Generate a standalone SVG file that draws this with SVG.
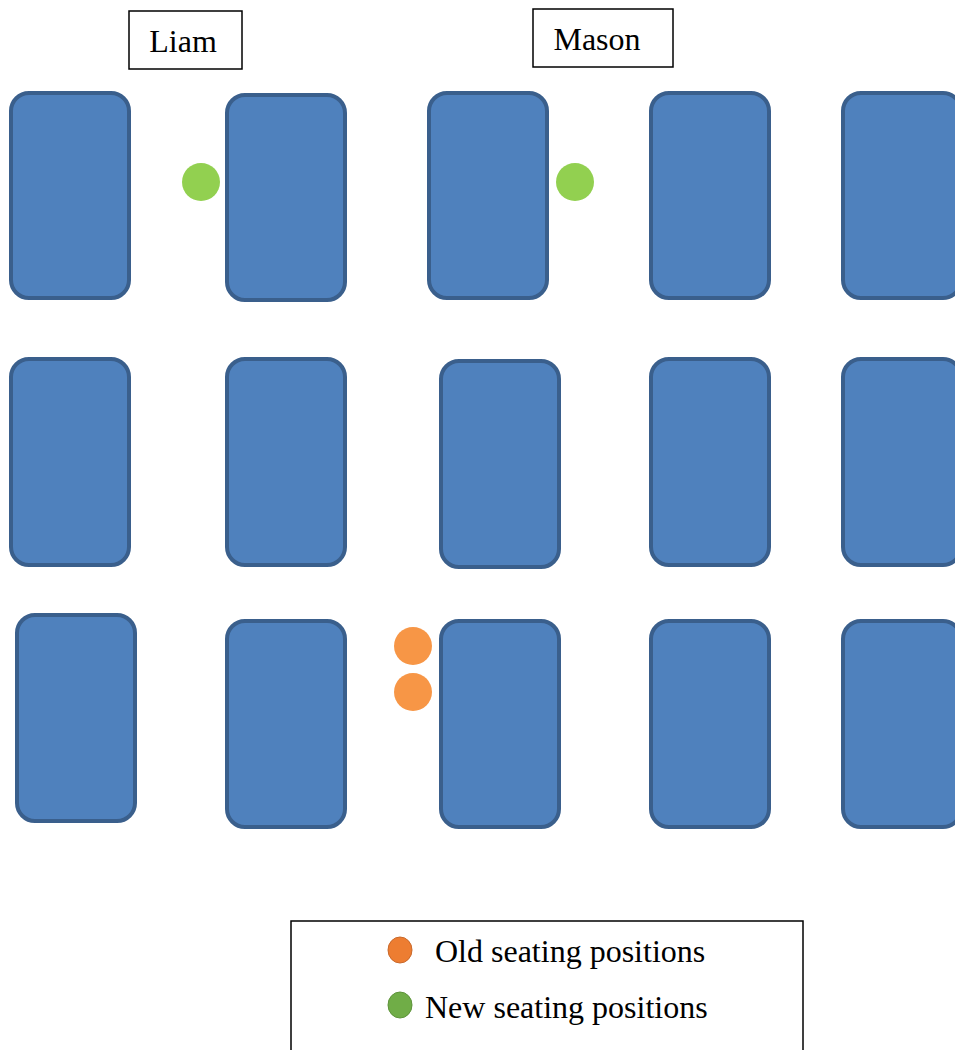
<svg xmlns="http://www.w3.org/2000/svg" width="955" height="1050" viewBox="0 0 955 1050">
<style>
.desk{fill:#4f81bd;stroke:#3a5f8c;stroke-width:4}
.lbl{fill:#fff;stroke:#000;stroke-width:1.5}
.t{font-family:"Liberation Serif","Times New Roman",serif;font-size:32px;fill:#000}
.new{fill:#92d050}
.old{fill:#f79646}
</style>
<rect width="955" height="1050" fill="#fff"/>
<g id="label-liam"><rect class="lbl" x="129" y="11" width="113" height="58"/><text class="t" x="183" y="52" text-anchor="middle">Liam</text></g>
<g id="label-mason"><rect class="lbl" x="533" y="9" width="140" height="58"/><text class="t" x="597" y="50" text-anchor="middle">Mason</text></g>
<g id="desks">
<g id="d11"><rect class="desk" x="11" y="93" width="118" height="205" rx="18"/></g>
<g id="d12"><rect class="desk" x="227" y="95" width="118" height="205" rx="18"/></g>
<g id="d13"><rect class="desk" x="429" y="93" width="118" height="205" rx="18"/></g>
<g id="d14"><rect class="desk" x="651" y="93" width="118" height="205" rx="18"/></g>
<g id="d15"><rect class="desk" x="843" y="93" width="118" height="205" rx="18"/></g>
<g id="d21"><rect class="desk" x="11" y="359" width="118" height="206" rx="18"/></g>
<g id="d22"><rect class="desk" x="227" y="359" width="118" height="206" rx="18"/></g>
<g id="d23"><rect class="desk" x="441" y="361" width="118" height="206" rx="18"/></g>
<g id="d24"><rect class="desk" x="651" y="359" width="118" height="206" rx="18"/></g>
<g id="d25"><rect class="desk" x="843" y="359" width="118" height="206" rx="18"/></g>
<g id="d31"><rect class="desk" x="17" y="615" width="118" height="206" rx="18"/></g>
<g id="d32"><rect class="desk" x="227" y="621" width="118" height="206" rx="18"/></g>
<g id="d33"><rect class="desk" x="441" y="621" width="118" height="206" rx="18"/></g>
<g id="d34"><rect class="desk" x="651" y="621" width="118" height="206" rx="18"/></g>
<g id="d35"><rect class="desk" x="843" y="621" width="118" height="206" rx="18"/></g>
</g>
<g id="seats">
<circle id="new-liam" class="new" cx="201" cy="182" r="19"/>
<circle id="new-mason" class="new" cx="575" cy="182" r="19"/>
<circle id="old-1" class="old" cx="413" cy="646" r="19"/>
<circle id="old-2" class="old" cx="413" cy="692" r="19"/>
</g>
<g id="legend">
<rect class="lbl" x="291" y="921" width="512" height="140"/>
<ellipse cx="400" cy="950" rx="12" ry="13" fill="#ed7d31" stroke="#c9692b" stroke-width="1"/>
<text class="t" x="435" y="962">Old seating positions</text>
<ellipse cx="400" cy="1005" rx="12" ry="13" fill="#70ad47" stroke="#5e933b" stroke-width="1"/>
<text class="t" x="425" y="1018">New seating positions</text>
</g>
</svg>
